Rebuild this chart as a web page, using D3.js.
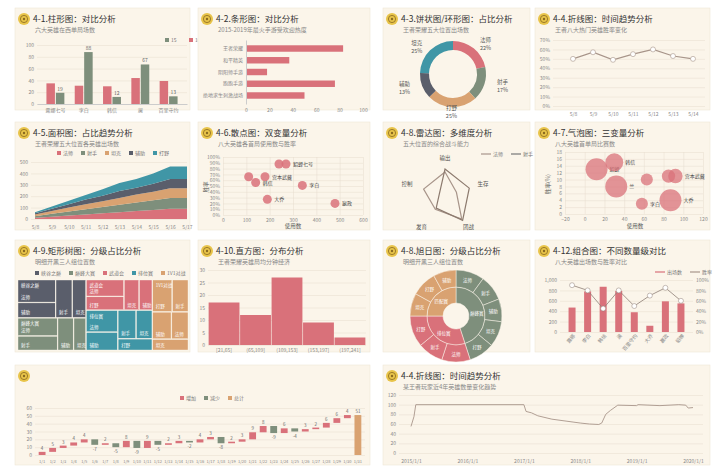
<!DOCTYPE html>
<meta charset="utf-8">
<style>
  body { margin: 0; background: #fff; }
  text { font-family: "Noto Sans CJK SC", sans-serif; }
  .tick text { font-size: 5px; fill: #888; }
  .grid line { stroke: #e6ddcf; stroke-width: 0.5; }
  .domain { stroke: #ccc; }
</style>
<svg id="chart" width="720" height="475"></svg>
<script src="https://cdn.jsdelivr.net/npm/d3@7"></script>
<script>
var RED = "#d9717a", GREEN = "#7e8f7c", TEAL = "#4096a6", DARK = "#5a5e6b", TAN = "#d9a271", LINE = "#a8958a";

// 4-1 bar
var barCats = ["露娜七号", "李白", "韩信", "澜", "百里守约"];
var barA = [35, 31, 30, 44, 39];
var barB = [19, 88, 12, 67, 13];
// 4-2 horizontal bar
var hCats = ["王者荣耀", "和平精英", "阴阳师手游", "跑跑手游", "绝地求生刺激战场"];
var hVals = [83, 37, 18, 76, 50];
// 4-3 donut
var donutCats = ["法师", "射手", "打野", "辅助", "坦克"];
var donutVals = [22, 17, 25, 13, 25];
// 4-4 line
var lineX = ["5/8", "5/9", "5/10", "5/11", "5/12", "5/13", "5/14"];
var lineY = [50, 57, 49, 55, 60, 53, 50];
// 4-5 stacked area
var areaX = ["5/8", "5/9", "5/10", "5/11", "5/12", "5/13", "5/14", "5/15", "5/16", "5/17"];
var areaKeys = ["法师", "射手", "坦克", "辅助", "打野"];
var areaFashi = [10, 20, 30, 40, 50, 60, 70, 80, 90, 90];
var areaSheshou = [15, 25, 35, 45, 55, 65, 75, 85, 95, 95];
var areaTanke = [15, 25, 35, 45, 50, 60, 70, 75, 85, 85];
var areaFuzhu = [10, 20, 30, 40, 50, 60, 60, 70, 80, 80];
var areaDaye = [10, 20, 30, 40, 55, 70, 75, 90, 110, 110];
// 4-6 scatter
var scNames = ["", "貂蝉七号", "", "宫本武藏", "韩信", "李白", "大乔", "嬴政"];
var scUse = [240, 270, 110, 180, 140, 340, 190, 480];
var scWin = [88, 88, 66, 66, 56, 51, 27, 20];
// 4-8 radar
var radarAxes = ["输出", "生存", "团战", "发育", "控制"];
var radarFashi = [80, 40, 95, 55, 75];
var radarSheshou = [90, 85, 100, 50, 20];
// 4-7 bubble
var bbNames = ["貂蝉", "韩信", "兰", "", "", "宫本武藏", "李白", "大乔"];
var bbX = [12, 30, 32, 63, 85, 92, 58, 87];
var bbY = [13, 15, 8, 10, 11, 11, 3, 4];
var bbR = [60, 40, 60, 18, 22, 26, 18, 60];
// 4-9 treemap
var tmGroups = ["峡谷之巅", "巅峰大赛", "武道会", "排位赛", "1V1对战"];
var tmColors = [DARK, GREEN, RED, TEAL, TAN];
var tmLeaves = [
  [["法师", 30], ["辅助", 20], ["射手", 22], ["坦克", 18]],
  [["法师", 25], ["射手", 20], ["辅助", 18], ["坦克", 14]],
  [["法师", 22], ["打野", 18], ["坦克", 16], ["辅助", 14]],
  [["法师", 24], ["辅助", 20], ["射手", 18], ["坦克", 16], ["打野", 14]],
  [["打野", 22], ["射手", 18], ["辅助", 18], ["法师", 16], ["坦克", 14]]
];
// 4-10 histogram
var histBins = ["[21,65]", "(65,109]", "(109,153]", "(153,197]", "(197,241]"];
var histVals = [17, 12, 27, 9, 3];
// 4-8 sunburst
var sbGroups = ["巅峰赛", "排位赛", "匹配赛"];
var sbColors = [GREEN, RED, TAN];
var sbLeaves = [
  [["法师", 10], ["射手", 9], ["辅助", 8], ["坦克", 9], ["打野", 9]],
  [["法师", 10], ["射手", 9], ["打野", 11]],
  [["坦克", 8], ["打野", 9], ["辅助", 8]]
];
// 4-12 combo
var cbCats = ["露娜", "李白", "韩信", "澜", "百里守约", "大乔", "嬴政", "貂蝉"];
var cbBars = [470, 780, 870, 790, 380, 120, 590, 550];
var cbRate = [90, 80, 45, 80, 50, 70, 85, 60];
// waterfall
var wfDays = d3.range(1, 32).map(function(d) { return "1/" + d; });
var wfDelta = [4, 5, 3, 4, 4, -7, 2, -5, 8, -9, 9, -5, 2, 3, -2, 4, 3, -8, 2, 3, 9, 8, -9, 6, -4, 3, 2, 6, 6, 4];
// 4-4 long line (break points)
var ltDates = ["2015/1/1", "2015/1/20", "2015/2/1", "2017/1/1", "2017/1/15", "2017/2/20", "2017/4/1", "2017/7/1", "2017/10/1", "2018/1/1", "2018/3/1", "2018/5/1", "2018/5/20", "2018/6/15", "2018/7/15", "2018/9/1", "2019/1/1", "2019/1/10", "2019/6/1", "2019/10/1", "2019/11/15", "2019/12/1", "2020/1/1"];
var ltVals = [55, 75, 100, 100, 86, 83, 77, 70, 66, 62, 60, 59, 62, 80, 88, 99, 98, 100, 98, 100, 99, 93, 94];

var svg = d3.select("#chart");

function panel(x, y, w, h, title, sub) {
  var g = svg.append("g").attr("transform", "translate(" + x + "," + y + ")");
  g.append("rect").attr("width", w).attr("height", h).attr("fill", "#fbf5ea")
    .attr("stroke", "#efe6d6").attr("stroke-width", 0.6);
  var ic = g.append("g").attr("transform", "translate(9,11)");
  ic.append("circle").attr("r", 6).attr("fill", "#e8c44a");
  ic.append("circle").attr("r", 3.6).attr("fill", "none").attr("stroke", "#8a6a20").attr("stroke-width", 0.8);
  ic.append("circle").attr("r", 1.2).attr("fill", "#8a6a20");
  if (title) g.append("text").attr("x", 18).attr("y", 14).attr("font-size", 8.5).attr("fill", "#333").text(title);
  if (sub) g.append("text").attr("x", 20).attr("y", 24).attr("font-size", 6).attr("fill", "#888").text(sub);
  return g;
}
function legend(g, x, y, names, colors, line) {
  var lx = x;
  names.forEach(function(n, i) {
    if (line) g.append("line").attr("x1", lx).attr("x2", lx + 10).attr("y1", y - 2).attr("y2", y - 2).attr("stroke", colors[i]).attr("stroke-width", 1.2);
    else g.append("rect").attr("x", lx).attr("y", y - 4).attr("width", 4).attr("height", 4).attr("fill", colors[i]);
    g.append("text").attr("x", lx + (line ? 12 : 6)).attr("y", y).attr("font-size", 5).attr("fill", "#777").text(n);
    lx += (line ? 14 : 8) + n.length * 5 + 6;
  });
}
function yGrid(g, scale, x0, x1, ticks, fmt) {
  var ax = g.append("g").attr("class", "grid").attr("transform", "translate(" + x0 + ",0)")
    .call(d3.axisLeft(scale).ticks(ticks).tickSize(-(x1 - x0)).tickFormat(fmt || null));
  ax.select(".domain").remove();
  return ax;
}
function xAxis(g, scale, y) {
  var ax = g.append("g").attr("transform", "translate(0," + y + ")").call(d3.axisBottom(scale).tickSize(0).tickPadding(4));
  ax.select(".domain").attr("stroke", "#ddd");
  return ax;
}

// ---------- 4-1 bar
(function() {
  var g = panel(15, 8, 175, 102, "4-1.柱形图：对比分析", "六大英雄在西单局场数");
  legend(g, 150, 34, ["15", "16"], [GREEN, RED]);
  var y = d3.scaleLinear().domain([0, 100]).range([96, 37]);
  var x0 = d3.scaleBand().domain(barCats).range([22, 172]).padding(0.3);
  var x1 = d3.scaleBand().domain([0, 1]).range([0, x0.bandwidth()]).padding(0.1);
  yGrid(g, y, 22, 172, 5);
  barCats.forEach(function(c, i) {
    [barA[i], barB[i]].forEach(function(v, j) {
      g.append("rect").attr("x", x0(c) + x1(j)).attr("y", y(v)).attr("width", x1.bandwidth())
        .attr("height", y(0) - y(v)).attr("fill", j ? GREEN : RED);
      if (j) g.append("text").attr("x", x0(c) + x1(j) + x1.bandwidth() / 2).attr("y", y(v) - 2)
        .attr("text-anchor", "middle").attr("font-size", 5).attr("fill", "#666").text(v);
    });
  });
  xAxis(g, x0, 96);
})();

// ---------- 4-2 horizontal bar
(function() {
  var g = panel(198, 8, 172, 102, "4-2.条形图：对比分析", "2015-2019年最火手游受欢迎热度");
  var x = d3.scaleLinear().domain([0, 100]).range([48, 165]);
  var y = d3.scaleBand().domain(hCats).range([32, 96]).padding(0.45);
  g.selectAll(".hb").data(hVals).enter().append("rect")
    .attr("x", x(0)).attr("y", function(d, i) { return y(hCats[i]); })
    .attr("width", function(d) { return x(d) - x(0); }).attr("height", y.bandwidth()).attr("fill", RED);
  g.append("g").attr("transform", "translate(" + x(0) + ",0)").call(d3.axisLeft(y).tickSize(0).tickPadding(3))
    .select(".domain").attr("stroke", "#ccc");
  g.append("g").attr("transform", "translate(0,98)").call(d3.axisBottom(x).ticks(5).tickSize(0).tickPadding(2))
    .select(".domain").remove();
})();

// ---------- 4-3 donut
(function() {
  var g = panel(383, 8, 147, 102, "4-3.饼状图/环形图：占比分析", "王者荣耀五大位置出场数");
  var colors = [RED, GREEN, TAN, DARK, TEAL];
  var pie = d3.pie().sort(null).value(function(d) { return d; });
  var arc = d3.arc().innerRadius(24).outerRadius(33);
  var c = g.append("g").attr("transform", "translate(70,66)");
  var total = d3.sum(donutVals);
  pie(donutVals).forEach(function(a, i) {
    c.append("path").attr("d", arc(a)).attr("fill", colors[i]);
    var m = (a.startAngle + a.endAngle) / 2;
    var px = Math.sin(m) * 52, py = -Math.cos(m) * 38;
    c.append("text").attr("x", px).attr("y", py - 2).attr("text-anchor", "middle").attr("font-size", 5.5).attr("fill", "#555").text(donutCats[i]);
    c.append("text").attr("x", px).attr("y", py + 6).attr("text-anchor", "middle").attr("font-size", 5.5).attr("fill", "#555").text(Math.round(donutVals[i] / total * 100) + "%");
  });
})();

// ---------- 4-4 line
(function() {
  var g = panel(535, 8, 175, 102, "4-4.折线图：时间趋势分析", "王者八大热门英雄胜率变化");
  var x = d3.scalePoint().domain(lineX).range([28, 168]).padding(0.5);
  var y = d3.scaleLinear().domain([0, 70]).range([98, 32]);
  yGrid(g, y, 18, 170, 7, function(d) { return d + "%"; });
  xAxis(g, x, 100).select(".domain").remove();
  g.append("path").datum(lineY).attr("fill", "none").attr("stroke", LINE).attr("stroke-width", 1.2)
    .attr("d", d3.line().x(function(d, i) { return x(lineX[i]); }).y(function(d) { return y(d); }));
  g.selectAll(".pt").data(lineY).enter().append("circle").attr("cx", function(d, i) { return x(lineX[i]); })
    .attr("cy", function(d) { return y(d); }).attr("r", 2.5).attr("fill", "#fff").attr("stroke", LINE).attr("stroke-width", 0.6);
})();

// ---------- 4-5 stacked area
(function() {
  var g = panel(15, 122, 175, 108, "4-5.面积图：占比趋势分析", "王者荣耀五大位置各英雄出场数");
  var colors = [RED, GREEN, TAN, DARK, TEAL];
  legend(g, 42, 33, areaKeys, colors);
  var rows = areaX.map(function(d, i) {
    return { x: d, "法师": areaFashi[i], "射手": areaSheshou[i], "坦克": areaTanke[i], "辅助": areaFuzhu[i], "打野": areaDaye[i] };
  });
  var st = d3.stack().keys(areaKeys)(rows);
  var x = d3.scalePoint().domain(areaX).range([20, 172]);
  var y = d3.scaleLinear().domain([0, 500]).range([97, 40]);
  yGrid(g, y, 16, 172, 5);
  st.forEach(function(s, i) {
    g.append("path").datum(s).attr("fill", colors[i])
      .attr("d", d3.area().x(function(d) { return x(d.data.x); }).y0(function(d) { return y(d[0]); }).y1(function(d) { return y(d[1]); }));
  });
  xAxis(g, x, 99).select(".domain").remove();
})();

// ---------- 4-6 scatter
(function() {
  var g = panel(198, 122, 172, 108, "4-6.散点图：双变量分析", "八大英雄各首局使用数与胜率");
  var x = d3.scaleLinear().domain([0, 600]).range([25, 165]);
  var y = d3.scaleLinear().domain([0, 100]).range([93, 35]);
  yGrid(g, y, 25, 165, 10, function(d) { return d + "%"; });
  g.append("g").attr("class", "grid").attr("transform", "translate(0,93)")
    .call(d3.axisBottom(x).ticks(6).tickSize(-58)).select(".domain").remove();
  scUse.forEach(function(u, i) {
    g.append("circle").attr("cx", x(u)).attr("cy", y(scWin[i])).attr("r", 4.5).attr("fill", RED).attr("opacity", 0.85);
    if (scNames[i]) g.append("text").attr("x", x(u) + 7).attr("y", y(scWin[i]) + 2).attr("font-size", 5).attr("fill", "#444").text(scNames[i]);
  });
  g.append("text").attr("x", 95).attr("y", 106).attr("font-size", 5.5).attr("text-anchor", "middle").attr("fill", "#555").text("使用数");
  g.append("text").attr("transform", "translate(10,65) rotate(-90)").attr("font-size", 5.5).attr("text-anchor", "middle").attr("fill", "#555").text("胜率");
})();

// ---------- 4-8 radar
(function() {
  var g = panel(383, 122, 147, 108, "4-8.雷达图：多维度分析", "五大位置的综合战斗能力");
  legend(g, 98, 34, ["法师", "射手"], [LINE, "#777"], true);
  var r = d3.scaleLinear().domain([0, 100]).range([0, 30]);
  var c = g.append("g").attr("transform", "translate(62,74)");
  var ang = function(i) { return i * 2 * Math.PI / radarAxes.length; };
  radarAxes.forEach(function(a, i) {
    c.append("text").attr("x", Math.sin(ang(i)) * 40).attr("y", -Math.cos(ang(i)) * 38 + 2)
      .attr("text-anchor", "middle").attr("font-size", 5.5).attr("fill", "#555").text(a);
  });
  [radarFashi, radarSheshou].forEach(function(s, k) {
    var line = d3.lineRadial().angle(function(d, i) { return ang(i); }).radius(function(d) { return r(d); }).curve(d3.curveLinearClosed);
    c.append("path").attr("d", line(s)).attr("fill", "none").attr("stroke", k ? "#8c7a6e" : LINE).attr("stroke-width", 1.2);
  });
})();

// ---------- 4-7 bubble
(function() {
  var g = panel(535, 122, 175, 108, "4-7.气泡图：三变量分析", "八大英雄首单局比赛数");
  var x = d3.scaleLinear().domain([-20, 120]).range([30, 168]);
  var y = d3.scaleLinear().domain([0, 18]).range([92, 30]);
  yGrid(g, y, 30, 168, 9);
  g.append("g").attr("class", "grid").attr("transform", "translate(0,92)")
    .call(d3.axisBottom(x).ticks(7).tickSize(-62)).select(".domain").remove();
  var rs = d3.scaleSqrt().domain([0, 60]).range([0, 11]);
  bbX.forEach(function(v, i) {
    g.append("circle").attr("cx", x(v)).attr("cy", y(bbY[i])).attr("r", rs(bbR[i])).attr("fill", RED).attr("opacity", 0.75);
    if (bbNames[i]) g.append("text").attr("x", x(v) + rs(bbR[i]) + 2).attr("y", y(bbY[i]) + 2).attr("font-size", 5).attr("fill", "#444").text(bbNames[i]);
  });
  g.append("text").attr("x", 100).attr("y", 106).attr("font-size", 5.5).attr("text-anchor", "middle").attr("fill", "#555").text("使用数");
  g.append("text").attr("transform", "translate(15,62) rotate(-90)").attr("font-size", 5.5).attr("text-anchor", "middle").attr("fill", "#555").text("胜率(%)");
})();

// ---------- 4-9 treemap
(function() {
  var g = panel(15, 240, 175, 112, "4-9.矩形树图：分级占比分析", "明细开黑三人组位置数");
  legend(g, 20, 35, tmGroups, tmColors);
  var root = d3.hierarchy({ children: tmGroups.map(function(n, i) {
    return { name: n, idx: i, children: tmLeaves[i].map(function(l) { return { name: l[0], value: l[1] }; }) };
  }) }).sum(function(d) { return d.value; });
  d3.treemap().size([170, 70]).paddingInner(0.8)(root);
  var t = g.append("g").attr("transform", "translate(3,40)");
  root.leaves().forEach(function(l) {
    t.append("rect").attr("x", l.x0).attr("y", l.y0).attr("width", l.x1 - l.x0).attr("height", l.y1 - l.y0)
      .attr("fill", tmColors[l.parent.data.idx]).attr("stroke", "#fbf5ea").attr("stroke-width", 0.4);
    t.append("text").attr("x", l.x0 + 3).attr("y", l.y1 - 3).attr("font-size", 4.5).attr("fill", "#fff").text(l.data.name);
  });
  root.children.forEach(function(p) {
    t.append("text").attr("x", p.x0 + 3).attr("y", p.y0 + 7).attr("font-size", 4.5).attr("fill", "#fff").text(p.data.name);
  });
})();

// ---------- 4-10 histogram
(function() {
  var g = panel(198, 240, 172, 112, "4-10.直方图：分布分析", "王者荣耀英雄局均分钟经济");
  var x = d3.scaleBand().domain(histBins).range([10, 168]).padding(0.02);
  var y = d3.scaleLinear().domain([0, 30]).range([105, 30]);
  yGrid(g, y, 10, 168, 6);
  g.selectAll(".hb").data(histVals).enter().append("rect")
    .attr("x", function(d, i) { return x(histBins[i]); }).attr("y", function(d) { return y(d); })
    .attr("width", x.bandwidth()).attr("height", function(d) { return y(0) - y(d); }).attr("fill", RED);
  g.append("g").attr("transform", "translate(0,105)").call(d3.axisBottom(x).tickSize(0).tickPadding(3))
    .select(".domain").remove();
})();

// ---------- 4-8 sunburst
(function() {
  var g = panel(383, 240, 147, 112, "4-8.旭日图：分级占比分析", "明细开黑三人组位置数");
  var root = d3.hierarchy({ children: sbGroups.map(function(n, i) {
    return { name: n, idx: i, children: sbLeaves[i].map(function(l) { return { name: l[0], value: l[1] }; }) };
  }) }).sum(function(d) { return d.value; });
  d3.partition().size([2 * Math.PI, 3])(root);
  var rad = [0, 13, 29, 46];
  var arc = d3.arc().startAngle(function(d) { return d.x0; }).endAngle(function(d) { return d.x1; })
    .innerRadius(function(d) { return rad[d.depth]; }).outerRadius(function(d) { return rad[d.depth + 1]; });
  var c = g.append("g").attr("transform", "translate(73,76)");
  root.descendants().slice(1).forEach(function(d) {
    var idx = d.depth === 1 ? d.data.idx : d.parent.data.idx;
    c.append("path").attr("d", arc(d)).attr("fill", sbColors[idx]).attr("stroke", "#fbf5ea").attr("stroke-width", 0.5);
    var p = arc.centroid(d);
    c.append("text").attr("x", p[0]).attr("y", p[1] + 2).attr("text-anchor", "middle").attr("font-size", 4.5).attr("fill", "#fff").text(d.data.name);
  });
})();

// ---------- 4-12 combo
(function() {
  var g = panel(535, 240, 175, 112, "4-12.组合图：不同数量级对比", "八大英雄出场数与胜率对比");
  legend(g, 120, 34, ["出场数", "胜率"], [RED, LINE], true);
  var x = d3.scaleBand().domain(cbCats).range([25, 158]).padding(0.55);
  var y = d3.scaleLinear().domain([0, 1000]).range([92, 40]);
  var y2 = d3.scaleLinear().domain([0, 100]).range([92, 40]);
  yGrid(g, y, 25, 158, 5);
  g.append("g").attr("transform", "translate(158,0)").call(d3.axisRight(y2).ticks(4).tickSize(0).tickFormat(function(d) { return d + "%"; }))
    .select(".domain").remove();
  g.selectAll(".cb").data(cbBars).enter().append("rect")
    .attr("x", function(d, i) { return x(cbCats[i]); }).attr("y", function(d) { return y(d); })
    .attr("width", x.bandwidth()).attr("height", function(d) { return y(0) - y(d); }).attr("fill", RED);
  var cx = function(d, i) { return x(cbCats[i]) + x.bandwidth() / 2; };
  g.append("path").datum(cbRate).attr("fill", "none").attr("stroke", "#8e7f76").attr("stroke-width", 0.8)
    .attr("d", d3.line().x(cx).y(function(d) { return y2(d); }));
  g.selectAll(".cp").data(cbRate).enter().append("circle").attr("cx", cx).attr("cy", function(d) { return y2(d); })
    .attr("r", 2.5).attr("fill", "#fff").attr("stroke", "#8e7f76").attr("stroke-width", 0.5);
  g.append("g").attr("transform", "translate(0,93)").call(d3.axisBottom(x).tickSize(0).tickPadding(2))
    .call(function(a) { a.select(".domain").remove(); })
    .selectAll("text").attr("transform", "rotate(-50)").attr("text-anchor", "end").attr("dy", "0.5em");
})();

// ---------- waterfall
(function() {
  var g = panel(15, 365, 355, 100, "", "");
  legend(g, 165, 35, ["增加", "减少", "总计"], [RED, GREEN, TAN]);
  var x = d3.scaleBand().domain(wfDays).range([20, 350]).padding(0.35);
  var y = d3.scaleLinear().domain([0, 60]).range([90, 43]);
  yGrid(g, y, 20, 350, 6);
  var cum = 0;
  wfDelta.forEach(function(v, i) {
    var a = cum, b = cum + v; cum = b;
    g.append("rect").attr("x", x(wfDays[i])).attr("y", y(Math.max(a, b))).attr("width", x.bandwidth())
      .attr("height", Math.abs(y(a) - y(b))).attr("fill", v > 0 ? RED : GREEN);
    g.append("text").attr("x", x(wfDays[i]) + x.bandwidth() / 2).attr("y", v > 0 ? y(b) - 2 : y(b) + 6)
      .attr("text-anchor", "middle").attr("font-size", 4.5).attr("fill", "#666").text(v);
  });
  g.append("rect").attr("x", x("1/31")).attr("y", y(cum)).attr("width", x.bandwidth()).attr("height", y(0) - y(cum)).attr("fill", TAN);
  g.append("text").attr("x", x("1/31") + x.bandwidth() / 2).attr("y", y(cum) - 2).attr("text-anchor", "middle").attr("font-size", 4.5).attr("fill", "#666").text(cum);
  xAxis(g, x, 91).call(function(a) { a.select(".domain").remove(); }).selectAll("text").style("font-size", "4px");
})();

// ---------- long line
(function() {
  var g = panel(383, 365, 327, 100, "4-4.折线图：时间趋势分析", "某王者玩家近4年英雄数量变化趋势");
  var parse = d3.timeParse("%Y/%m/%d");
  var x = d3.scaleTime().domain([parse("2015/1/1"), parse("2020/1/1")]).range([28, 310]);
  var y = d3.scaleLinear().domain([0, 120]).range([88, 30]);
  yGrid(g, y, 16, 320, 6);
  g.append("path").datum(ltVals).attr("fill", "none").attr("stroke", LINE).attr("stroke-width", 0.9)
    .attr("d", d3.line().x(function(d, i) { return x(parse(ltDates[i])); }).y(function(d) { return y(d); }));
  g.append("g").attr("transform", "translate(0,91)")
    .call(d3.axisBottom(x).tickValues(["2015/1/1", "2016/1/1", "2017/1/1", "2018/1/1", "2019/1/1", "2020/1/1"].map(parse)).tickSize(0).tickPadding(3).tickFormat(d3.timeFormat("%Y/%-m/%-d")))
    .select(".domain").remove();
})();
</script>
